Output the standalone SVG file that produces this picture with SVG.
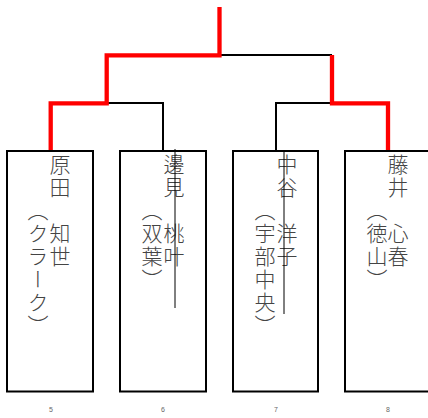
<svg xmlns="http://www.w3.org/2000/svg" width="428" height="418" viewBox="0 0 428 418">
<style>
.box{fill:#fff;stroke:#000;stroke-width:2}
.blk{fill:none;stroke:#000;stroke-width:2}
.red{fill:none;stroke:#f00;stroke-width:4.3}
.thin{stroke:#000;stroke-width:1}
.vt{font-family:"Noto Sans CJK JP","Noto Sans CJK SC",sans-serif;font-size:21px;font-weight:300;fill:#444;writing-mode:vertical-rl;letter-spacing:2px}
.num{font-family:"Liberation Sans",sans-serif;font-size:7px;fill:#666;text-anchor:middle}
</style>
<rect width="428" height="418" fill="#fff"/>
<g id="connectors">
<path class="blk" d="M219,55 H332"/>
<path class="blk" d="M107,103 H163 V151"/>
<path class="blk" d="M332,103 H276 V151"/>
<path class="red" d="M219.5,7 V55.3 H106.7 V103.3 H50.7 V151"/>
<path class="red" d="M332,55 V103.3 H388 V151"/>
</g>
<g id="p5">
<rect class="box" x="7" y="151" width="86" height="240.5"/>
<text class="vt" x="60" y="154">原田　知世</text>
<text class="vt" x="38" y="200">（クラーク）</text>
<text class="num" x="51" y="412">5</text>
</g>
<g id="p6">
<rect class="box" x="120" y="151" width="86" height="240.5"/>
<text class="vt" x="174" y="154">邊見　桃叶</text>
<text class="vt" x="152" y="200">（双葉）</text>
<line class="thin" x1="175" y1="149" x2="175" y2="308"/>
<text class="num" x="163" y="412">6</text>
</g>
<g id="p7">
<rect class="box" x="233" y="151" width="85" height="240.5"/>
<text class="vt" x="287" y="154">中谷　洋子</text>
<text class="vt" x="265" y="200">（宇部中央）</text>
<line class="thin" x1="284" y1="152" x2="284" y2="314"/>
<text class="num" x="276" y="412">7</text>
</g>
<g id="p8">
<rect class="box" x="345" y="151" width="90" height="240.5"/>
<text class="vt" x="398" y="154">藤井　心春</text>
<text class="vt" x="377" y="200">（徳山）</text>
<text class="num" x="388" y="412">8</text>
</g>
</svg>
